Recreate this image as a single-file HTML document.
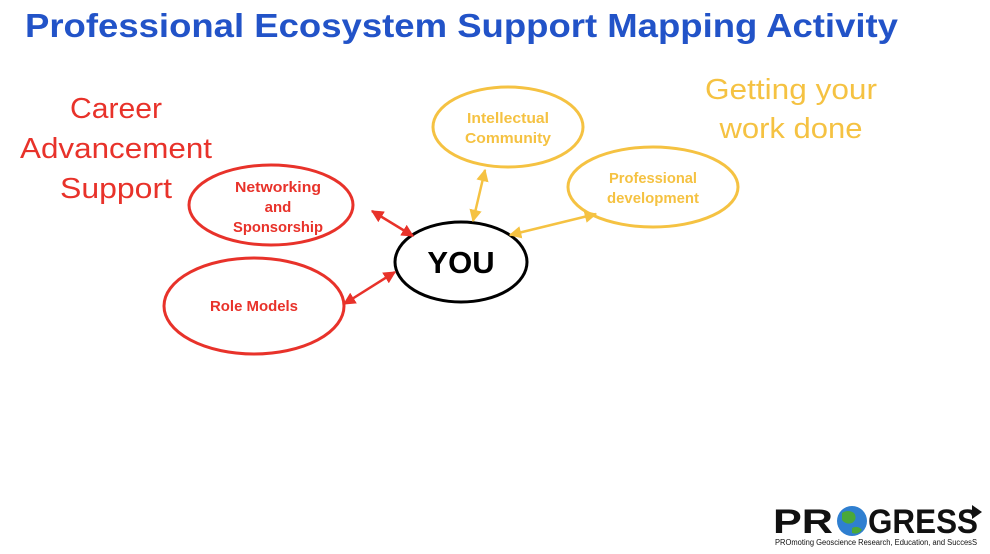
<!DOCTYPE html>
<html><head><meta charset="utf-8"><style>
html,body{margin:0;padding:0;background:#fff;}
svg{display:block;}
text{font-family:"Liberation Sans",sans-serif;}
</style></head><body>
<svg width="990" height="554" viewBox="0 0 990 554" xmlns="http://www.w3.org/2000/svg">
<defs>
<marker id="ar" viewBox="0 0 10 10" refX="9" refY="5" markerWidth="5" markerHeight="5" orient="auto-start-reverse" markerUnits="strokeWidth"><path d="M0,0 L10,5 L0,10 z" fill="#e8322a"/></marker>
<marker id="ay" viewBox="0 0 10 10" refX="9" refY="5" markerWidth="5" markerHeight="5" orient="auto-start-reverse" markerUnits="strokeWidth"><path d="M0,0 L10,5 L0,10 z" fill="#f5c242"/></marker>
</defs>
<text x="25" y="37" font-size="33" font-weight="bold" fill="#2253c8" textLength="873" lengthAdjust="spacingAndGlyphs">Professional Ecosystem Support Mapping Activity</text>
<g fill="#e8322a" font-size="29" text-anchor="middle">
<text x="116" y="118" textLength="92" lengthAdjust="spacingAndGlyphs">Career</text>
<text x="116" y="158" textLength="192" lengthAdjust="spacingAndGlyphs">Advancement</text>
<text x="116" y="198" textLength="112" lengthAdjust="spacingAndGlyphs">Support</text>
</g>
<g fill="#f5c242" font-size="29" text-anchor="middle">
<text x="791" y="99" textLength="172" lengthAdjust="spacingAndGlyphs">Getting your</text>
<text x="791" y="138" textLength="143" lengthAdjust="spacingAndGlyphs">work done</text>
</g>
<g fill="none" stroke-width="3">
<ellipse cx="271" cy="205" rx="82" ry="40" stroke="#e8322a"/>
<ellipse cx="254" cy="306" rx="90" ry="48" stroke="#e8322a"/>
<ellipse cx="461" cy="262" rx="66" ry="40" stroke="#000"/>
<ellipse cx="508" cy="127" rx="75" ry="40" stroke="#f5c242"/>
<ellipse cx="653" cy="187" rx="85" ry="40" stroke="#f5c242"/>
<line x1="372" y1="211" x2="413" y2="236" stroke="#e8322a" stroke-width="2.5" marker-start="url(#ar)" marker-end="url(#ar)"/>
<line x1="344" y1="304" x2="395" y2="272" stroke="#e8322a" stroke-width="2.5" marker-start="url(#ar)" marker-end="url(#ar)"/>
<line x1="485" y1="170" x2="473" y2="221" stroke="#f5c242" stroke-width="2.5" marker-start="url(#ay)" marker-end="url(#ay)"/>
<line x1="510" y1="235" x2="596" y2="214" stroke="#f5c242" stroke-width="2.5" marker-start="url(#ay)" marker-end="url(#ay)"/>
</g>
<g font-weight="bold" font-size="15" text-anchor="middle" fill="#e8322a">
<text x="278" y="192" textLength="86" lengthAdjust="spacingAndGlyphs">Networking</text>
<text x="278" y="212">and</text>
<text x="278" y="232" textLength="90" lengthAdjust="spacingAndGlyphs">Sponsorship</text>
<text x="254" y="311" textLength="88" lengthAdjust="spacingAndGlyphs">Role Models</text>
</g>
<g font-weight="bold" font-size="15" text-anchor="middle" fill="#f5c242">
<text x="508" y="123" textLength="82" lengthAdjust="spacingAndGlyphs">Intellectual</text>
<text x="508" y="143" textLength="86" lengthAdjust="spacingAndGlyphs">Community</text>
<text x="653" y="183" textLength="88" lengthAdjust="spacingAndGlyphs">Professional</text>
<text x="653" y="203" textLength="92" lengthAdjust="spacingAndGlyphs">development</text>
</g>
<text x="461" y="273" font-size="31" font-weight="bold" text-anchor="middle" fill="#000">YOU</text>
<g>
<text x="773" y="533" font-size="34" font-weight="bold" fill="#111" textLength="60" lengthAdjust="spacingAndGlyphs">PR</text>
<circle cx="852" cy="521" r="15" fill="#2f7fd0"/>
<path d="M842,513 q6,-4 12,0 q4,6 -2,10 q-6,2 -10,-3z M852,528 q6,-3 10,2 q-4,5 -10,3z" fill="#4aa83a"/>
<text x="868" y="533" font-size="34" font-weight="bold" fill="#111" textLength="110" lengthAdjust="spacingAndGlyphs">GRESS</text>
<path d="M972,505 l10,7 l-10,7z" fill="#111"/>
<text x="775" y="545" font-size="8" fill="#111" textLength="202" lengthAdjust="spacingAndGlyphs">PROmoting Geoscience Research, Education, and SuccesS</text>
</g>
</svg>
</body></html>
